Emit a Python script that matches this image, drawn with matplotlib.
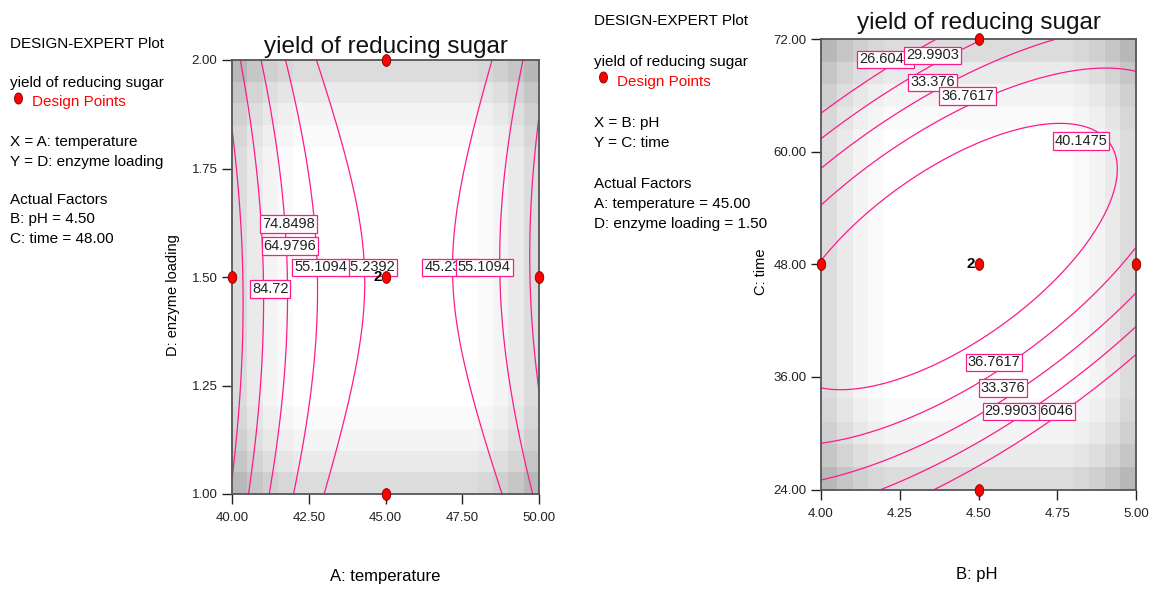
import numpy as np
import matplotlib
matplotlib.use('Agg')
import matplotlib.pyplot as plt
from matplotlib.path import Path
from matplotlib.transforms import Affine2D
from matplotlib.lines import Line2D

plt.rcParams['font.family'] = ['Liberation Sans', 'DejaVu Sans']

# ---- panel 1 : A temperature vs D enzyme loading
temp_range = [40.0, 50.0]
load_range = [1.0, 2.0]
temp_ticks = [40.0, 42.5, 45.0, 47.5, 50.0]
load_ticks = [1.0, 1.25, 1.5, 1.75, 2.0]
levels_1 = [45.2392, 55.1094, 64.9796, 74.8498, 84.72]
# quadratic model in coded units: const, A, D, A^2, D^2, AD
coef_1 = [43.081, -10.985, -0.16, 36.391, -9.053, 2.091]
design_temp = [40, 50, 45, 45, 45]
design_load = [1.5, 1.5, 1.0, 2.0, 1.5]

# ---- panel 2 : B pH vs C time
ph_range = [4.0, 5.0]
time_range = [24.0, 72.0]
ph_ticks = [4.0, 4.25, 4.5, 4.75, 5.0]
time_ticks = [24.0, 36.0, 48.0, 60.0, 72.0]
levels_2 = [26.6046, 29.9903, 33.376, 36.7617, 40.1475]
# const, B, C, B^2, C^2, BC
coef_2 = [43.255, -2.326, 3.412, -5.276, -16.958, 12.423]
design_ph = [4.0, 5.0, 4.5, 4.5, 4.5]
design_time = [48, 48, 24, 72, 48]


def coded(v, rng):
    mid = (rng[0] + rng[1]) / 2
    return (np.asarray(v) - mid) / ((rng[1] - rng[0]) / 2)


def terms(u, v):
    return np.stack([np.ones_like(u), u, v, u * u, v * v, u * v], axis=-1)


W, H = 1150, 590
pink = '#ff1a8c'
shade_steps = [0.14, 0.085, 0.045, 0.02]


def fx(px):
    return px / W


def fy(py):
    return 1 - py / H


def edge_profile(n):
    p = np.zeros(n)
    for i, s in enumerate(shade_steps):
        p[i] = max(p[i], s)
        p[n - 1 - i] = max(p[n - 1 - i], s)
    return p


ell = Path.unit_circle().transformed(Affine2D().scale(0.72, 1.0))


def panel(ax, xr, yr, coef, levels, xticks, yticks, px, py, labels):
    n = 20
    xe = np.linspace(xr[0], xr[1], n + 1)
    ye = np.linspace(yr[0], yr[1], n + 1)
    dark = np.add.outer(edge_profile(n), edge_profile(n))
    ax.pcolormesh(xe, ye, 1 - dark, cmap='gray', vmin=0, vmax=1, shading='flat', zorder=0)
    gx = np.linspace(xr[0], xr[1], 300)
    gy = np.linspace(yr[0], yr[1], 300)
    X, Y = np.meshgrid(gx, gy)
    Z = terms(coded(X, xr), coded(Y, yr)) @ np.asarray(coef)
    ax.contour(X, Y, Z, levels=levels, colors=pink, linewidths=0.9, zorder=2)
    for k, (lx, ly, li) in enumerate(labels):
        ax.text(lx, ly, str(levels[li]), ha='center', va='center', fontsize=10.5, color='#222222',
                zorder=4 + k * 0.01,
                bbox=dict(boxstyle='square,pad=0.12', fc='white', ec=pink, lw=0.9))
    ax.plot(px, py, ls='none', marker=ell, ms=8.5, mfc='#ff0000', mec='#7a0000', mew=0.6,
            clip_on=False, zorder=6)
    # replicated centre point
    ax.text(px[-1] - 0.012 * (xr[1] - xr[0]), py[-1], '2', ha='right', va='center',
            fontsize=11, fontweight='bold', color='black', zorder=7)
    ax.set_xlim(xr)
    ax.set_ylim(yr)
    ax.set_xticks(xticks)
    ax.set_yticks(yticks)
    ax.set_xticklabels(['%.2f' % t for t in xticks])
    ax.set_yticklabels(['%.2f' % t for t in yticks])
    ax.tick_params(direction='out', length=7, width=1, color='#222222', labelsize=9.5,
                   labelcolor='#222222')
    ax.tick_params(axis='x', pad=6)
    ax.tick_params(axis='y', pad=3.5)
    for s in ax.spines.values():
        s.set_color('#555555')
        s.set_linewidth(1.3)
        s.set_zorder(5)


fig = plt.figure(figsize=(W / 100, H / 100), dpi=100)

ax1 = fig.add_axes([fx(232), fy(494), (539 - 232) / W, (494 - 60) / H])
labels_1 = [(44.45, 1.522, 0), (42.88, 1.522, 1), (41.84, 1.622, 3), (41.89, 1.571, 2),
            (41.25, 1.472, 4), (47.12, 1.522, 0), (48.22, 1.522, 1)]
panel(ax1, temp_range, load_range, coef_1, levels_1, temp_ticks, load_ticks,
      design_temp, design_load, labels_1)

ax2 = fig.add_axes([fx(821), fy(489.5), (1136 - 821) / W, (489.5 - 39.3) / H])
labels_2 = [(4.205, 69.85, 0), (4.354, 70.28, 1), (4.354, 67.4, 2), (4.465, 65.96, 3),
            (4.825, 61.16, 4), (4.55, 37.56, 3), (4.578, 34.8, 2), (4.718, 32.34, 0),
            (4.603, 32.34, 1)]
panel(ax2, ph_range, time_range, coef_2, levels_2, ph_ticks, time_ticks,
      design_ph, design_time, labels_2)

ax1.text(0.5, 1 + 7 / 434, 'yield of reducing sugar', transform=ax1.transAxes, ha='center',
         va='baseline', fontsize=17.5, color='#111111')
ax2.text(0.5, 1 + 10 / 450, 'yield of reducing sugar', transform=ax2.transAxes, ha='center',
         va='baseline', fontsize=17.5, color='#111111')

# side legends
side_1 = [(48, 'DESIGN-EXPERT Plot'), (87, 'yield of reducing sugar'),
          (145.7, 'X = A: temperature'), (165.7, 'Y = D: enzyme loading'),
          (204, 'Actual Factors'), (223, 'B: pH = 4.50'), (242.7, 'C: time = 48.00')]
for yy, t in side_1:
    fig.text(fx(10.5), fy(yy), t, fontsize=11, color='black', va='baseline')
fig.text(fx(32), fy(106), 'Design Points', fontsize=11, color='#ff0000', va='baseline')
fig.add_artist(Line2D([fx(18)], [fy(98)], transform=fig.transFigure, marker=ell, ms=8,
                      mfc='#ff0000', mec='#7a0000', mew=0.6))

side_2 = [(25, 'DESIGN-EXPERT Plot'), (66, 'yield of reducing sugar'), (126.7, 'X = B: pH'),
          (146.7, 'Y = C: time'), (187.7, 'Actual Factors'), (207.7, 'A: temperature = 45.00'),
          (227.7, 'D: enzyme loading = 1.50')]
for yy, t in side_2:
    fig.text(fx(594.5), fy(yy), t, fontsize=11, color='black', va='baseline')
fig.text(fx(617), fy(86), 'Design Points', fontsize=11, color='#ff0000', va='baseline')
fig.add_artist(Line2D([fx(602.5)], [fy(77)], transform=fig.transFigure, marker=ell, ms=8,
                      mfc='#ff0000', mec='#7a0000', mew=0.6))

fig.text(fx(385), fy(577), 'A: temperature', fontsize=12, ha='center', va='center')
fig.text(fx(977), fy(575), 'B: pH', fontsize=12, ha='center', va='center')
fig.text(fx(173), fy(295), 'D: enzyme loading', fontsize=10.5, ha='center', va='center',
         rotation=90)
fig.text(fx(761), fy(272), 'C: time', fontsize=10.5, ha='center', va='center', rotation=90)

fig.savefig('out.png', dpi=100)
